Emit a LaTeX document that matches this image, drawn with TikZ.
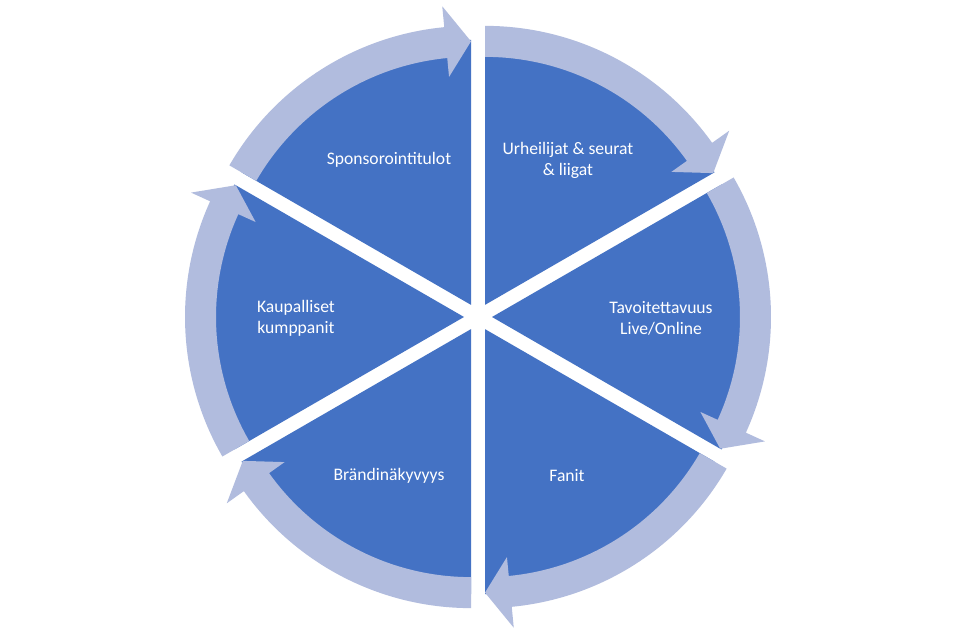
\documentclass[tikz,border=0pt]{standalone}
\usepackage{fontspec}
\setmainfont{Carlito}
\definecolor{segblue}{RGB}{68,114,196}
\definecolor{ringblue}{RGB}{177,188,222}
\tikzset{
  lbl/.style={text=white, align=center, font=\fontsize{17.6}{21}\selectfont, inner sep=0pt}
}
\begin{document}
\begin{tikzpicture}[x=1pt,y=1pt]
\useasboundingbox (0,0) rectangle (958,639);
\fill[white] (0,0) rectangle (958,639);
% pie segments
\foreach \b in {60,0,-60,-120,180,120} {
  \begin{scope}[shift={(478,322)}, shift={(\b:14)}]
    \fill[segblue] (0,0) -- ({\b+30}:265) arc[start angle={\b+30}, end angle={\b-30}, radius=265] -- cycle;
  \end{scope}
}
% circular arrows
\foreach \b in {60,0,-60,-120,180,120} {
  \begin{scope}[shift={(478,322)}, shift={(\b:14)}]
    \fill[ringblue] ({\b+30}:279) arc[start angle={\b+30}, end angle={\b-24.5}, radius=279]
      -- ({\b-24.5}:300) -- ({\b-30}:263.5) -- ({\b-24.5}:229) -- ({\b-24.5}:248)
      arc[start angle={\b-24.5}, end angle={\b+30}, radius=248] -- cycle;
  \end{scope}
}
\node[lbl] (sp) at (389,479) {Sponsorointitulot};
\node[lbl] (ur) at (568,479) {Urheilijat \& seurat\\\& liigat};
\node[lbl] (ta) at (661,321) {Tavoitettavuus\\Live/Online};
\node[lbl] (fa) at (567,163) {Fanit};
\node[lbl] (br) at (389,163) {Brändinäkyvyys};
\node[lbl] (ka) at (296,321) {Kaupalliset\\kumppanit};
\end{tikzpicture}
\end{document}
